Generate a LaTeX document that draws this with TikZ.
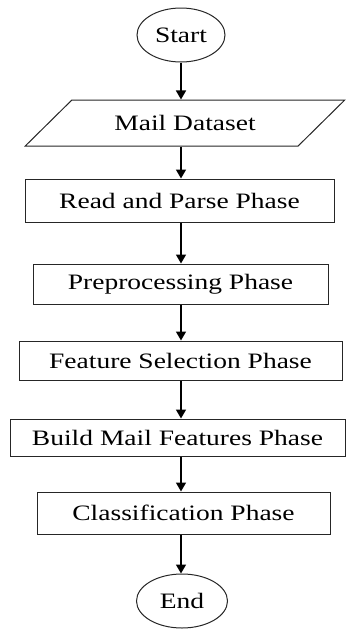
\documentclass[tikz,border=0pt]{standalone}
\usepackage{fontspec}
\setmainfont{Liberation Serif}
\usetikzlibrary{shapes.geometric,arrows.meta}
\newcommand{\sx}[1]{\scalebox{1.25}[1]{#1}}
\begin{document}
\begin{tikzpicture}[x=1pt,y=-1pt,
  txt/.style={font=\fontsize{22}{26}\selectfont,text=black},
  box/.style={txt,draw=black!85,line width=1pt,rectangle,inner sep=0pt},
  term/.style={txt,draw=black!85,line width=1pt,ellipse,inner sep=0pt},
  io/.style={txt,draw=black!85,line width=1pt,trapezium,trapezium left angle=28,
    trapezium right angle=152,trapezium stretches=true,inner sep=0pt},
  arr/.style={line width=1.5pt,black,-{Triangle[length=9pt,width=10pt]}}]
\useasboundingbox (0,0) rectangle (361,630);
\node[term,minimum width=88pt,minimum height=54pt] (start) at (181,35) {\sx{Start}};
\node[io,minimum width=320pt,minimum height=46pt] (data) at (185,123) {\sx{Mail Dataset}};
\node[box,minimum width=309pt,minimum height=43pt] (read) at (179.5,200.5) {\sx{Read and Parse Phase}};
\node[box,minimum width=295pt,minimum height=40pt] (prep) at (180.5,284) {\sx{Preprocessing Phase}};
\node[box,minimum width=323pt,minimum height=39pt] (feat) at (180.5,360.5) {\sx{Feature Selection Phase}};
\node[box,minimum width=335pt,minimum height=37pt] (build) at (177.5,437.5) {\sx{Build Mail Features Phase}};
\node[box,minimum width=293pt,minimum height=42pt] (cls) at (183.5,513) {\sx{Classification Phase}};
\node[term,minimum width=91pt,minimum height=54pt] (end) at (182,601) {\sx{End}};
\draw[arr] (start.south) -- (start.south |- data.north);
\draw[arr] (start.south |- data.south) -- (start.south |- read.north);
\draw[arr] (start.south |- read.south) -- (start.south |- prep.north);
\draw[arr] (start.south |- prep.south) -- (start.south |- feat.north);
\draw[arr] (start.south |- feat.south) -- (start.south |- build.north);
\draw[arr] (start.south |- build.south) -- (start.south |- cls.north);
\draw[arr] (start.south |- cls.south) -- (start.south |- end.north);
\end{tikzpicture}
\end{document}
